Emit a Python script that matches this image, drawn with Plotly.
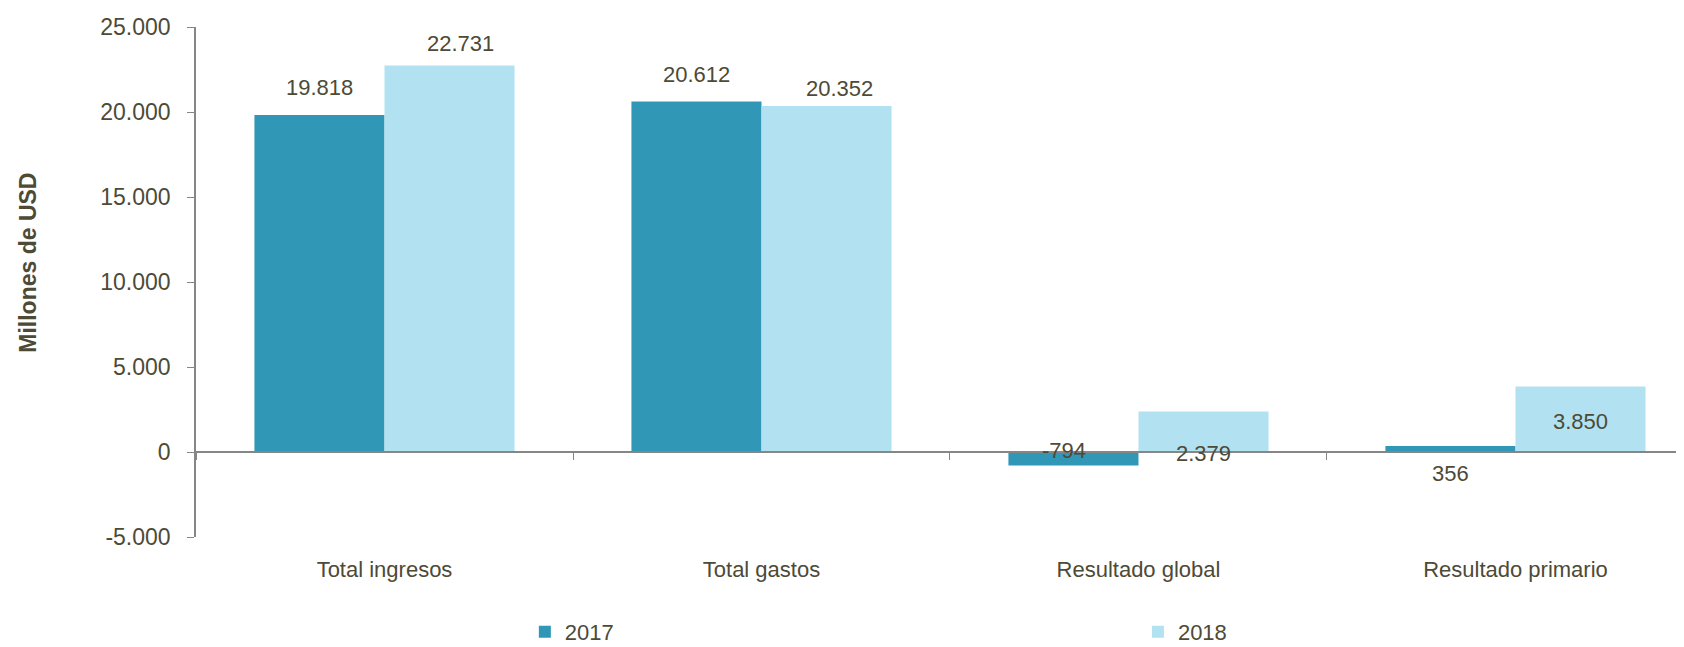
import plotly.graph_objects as go

categorias = ["Total ingresos", "Total gastos", "Resultado global", "Resultado primario"]
valores_2017 = [19818, 20612, -794, 356]
valores_2018 = [22731, 20352, 2379, 3850]
ticks_y = [-5000, 0, 5000, 10000, 15000, 20000, 25000]
ticks_y_texto = ["-5.000", "0", "5.000", "10.000", "15.000", "20.000", "25.000"]

color_texto = "#4d4a36"
color_eje = "#868686"
fuente = "Arial, Liberation Sans, sans-serif"

y_min, y_max = -5000, 25000


def miles(v):
    return f"{v:,}".replace(",", ".")


fig = go.Figure()
fig.add_trace(go.Bar(x=categorias, y=valores_2017, name="2017", legend="legend",
                     marker=dict(color="#3197b6", line=dict(width=0))))
fig.add_trace(go.Bar(x=categorias, y=valores_2018, name="2018", legend="legend2",
                     marker=dict(color="#b2e2f1", line=dict(width=0))))
# eje auxiliar para dibujar la linea del eje x en el cero
fig.add_trace(go.Scatter(x=categorias, y=[0] * len(categorias), xaxis="x2",
                         mode="markers", marker=dict(opacity=0),
                         showlegend=False, hoverinfo="skip"))

# (modo de anclaje, desplazamiento vertical px, desplazamiento horizontal px)
etiq_2017 = [("top", 28, 0), ("top", 27, 0), ("zero", 2, -9), ("zero", -21, 0)]
etiq_2018 = [("top", 22, 11), ("top", 18, 13), ("zero", -1, 0), ("mid", -2, 0)]

anotaciones = []
for valores, estilos, lado in [(valores_2017, etiq_2017, -65), (valores_2018, etiq_2018, 65)]:
    for cat, v, (modo, dy, dx) in zip(categorias, valores, estilos):
        if modo == "top":
            y = v
        elif modo == "mid":
            y = v / 2
        else:
            y = 0
        anotaciones.append(dict(x=cat, y=y, xref="x", yref="y", text=miles(v),
                                showarrow=False, xshift=lado + dx, yshift=dy,
                                yanchor="middle",
                                font=dict(size=22, color=color_texto, family=fuente)))

anotaciones.append(dict(x=-0.1125, y=0.537, xref="paper", yref="paper",
                        text="<b>Millones de USD</b>", textangle=-90, showarrow=False,
                        xanchor="center", yanchor="middle",
                        font=dict(size=23, color=color_texto, family=fuente)))

leyenda = dict(orientation="h", xanchor="left", y=-0.186, yanchor="middle",
               bgcolor="rgba(0,0,0,0)", font=dict(size=22, color=color_texto, family=fuente))

# la pagina html deja 8 px de margen alrededor de la figura
fig.update_layout(
    width=1676, height=639,
    margin=dict(l=188, r=0, t=19, b=110, autoexpand=False),
    paper_bgcolor="white", plot_bgcolor="white",
    barmode="group", bargap=0.31, bargroupgap=0,
    font=dict(family=fuente, color=color_texto, size=22),
    annotations=anotaciones,
    showlegend=True,
    legend=dict(leyenda, x=0.221),
    legend2=dict(leyenda, x=0.633),
    xaxis=dict(type="category", range=[-0.5, 3.447], showline=False, ticks="",
               showgrid=False, zeroline=False, ticklabelstandoff=17,
               tickfont=dict(size=22, color=color_texto)),
    xaxis2=dict(type="category", matches="x", overlaying="x", anchor="free",
                position=(0 - y_min) / (y_max - y_min),
                showline=True, linecolor=color_eje, linewidth=1.5,
                ticks="outside", tickson="boundaries", ticklen=7, tickcolor=color_eje,
                showticklabels=False, showgrid=False, zeroline=False),
    yaxis=dict(range=[y_min, y_max], tickvals=ticks_y, ticktext=ticks_y_texto,
               showline=True, linecolor=color_eje, linewidth=1.5,
               ticks="outside", ticklen=7, tickcolor=color_eje,
               showgrid=False, zeroline=False, ticklabelstandoff=12,
               tickfont=dict(size=23, color=color_texto)),
)

fig.write_html("out.html")
